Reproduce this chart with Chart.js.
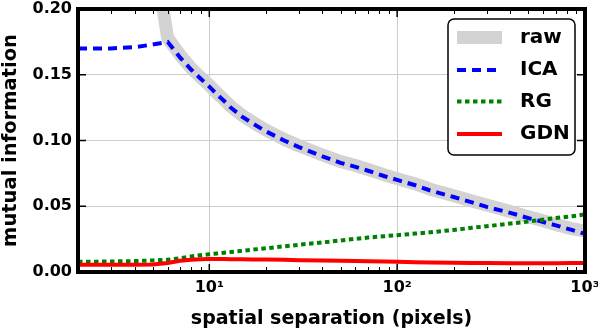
<!DOCTYPE html>
<html>
<head>
<meta charset="utf-8">
<script src="https://cdn.jsdelivr.net/npm/chart.js@4.4.1/dist/chart.umd.min.js"></script>
<style>
  html, body { margin: 0; padding: 0; background: #fff; }
  #wrap { width: 598px; height: 334px; }
</style>
</head>
<body>
<div id="wrap"><canvas id="miChart" width="598" height="334"></canvas></div>
<script>
// spatial separation (pixels) and mutual information per method
const separations = [2, 3, 4, 5, 6, 7, 8, 9, 10, 11, 12, 13, 15, 17, 20, 25, 30, 40, 50, 60, 70, 85,
    100, 125, 150, 200, 250, 300, 400, 500, 600, 700, 850, 1000]
const rawMI = [0.55, 0.42, 0.32, 0.25, 0.178, 0.165, 0.155, 0.148, 0.142, 0.136, 0.131, 0.126, 0.119, 0.114,
    0.108, 0.101, 0.096, 0.089, 0.084, 0.081, 0.078, 0.074, 0.071, 0.067, 0.063, 0.058, 0.054, 0.051,
    0.046, 0.042, 0.039, 0.036, 0.033, 0.031]
const icaMI = [0.170, 0.170, 0.171, 0.173, 0.175, 0.163, 0.154, 0.147, 0.141, 0.135, 0.130, 0.125, 0.118, 0.113,
    0.107, 0.100, 0.095, 0.088, 0.083, 0.080, 0.077, 0.073, 0.070, 0.066, 0.062, 0.057, 0.053, 0.0495,
    0.045, 0.041, 0.038, 0.0355, 0.032, 0.029]
const rgMI = [0.0077, 0.008, 0.0083, 0.0088, 0.0093, 0.0105, 0.0118, 0.0128, 0.0135, 0.0141, 0.0147, 0.0152,
    0.0161, 0.017, 0.018, 0.0195, 0.0207, 0.0225, 0.024, 0.0252, 0.0262, 0.0272, 0.028, 0.0292, 0.0302,
    0.032, 0.0336, 0.0348, 0.0368, 0.0384, 0.0398, 0.041, 0.0424, 0.0438]
const gdnMI = [0.0055, 0.0055, 0.0055, 0.0057, 0.0068, 0.0085, 0.0093, 0.0097, 0.0098, 0.0098, 0.0098, 0.0097,
    0.0097, 0.0096, 0.0095, 0.0093, 0.009, 0.0087, 0.0085, 0.0083, 0.0081, 0.0079, 0.0077, 0.0075, 0.0073,
    0.0071, 0.0069, 0.0068, 0.0067, 0.0066, 0.0066, 0.0067, 0.0068, 0.0069]

const xTickValues = [10, 100, 1000]
const xTickLabels = ['10\u00B9', '10\u00B2', '10\u00B3']
const yTickValues = [0, 0.05, 0.10, 0.15, 0.20]

const FONT = 'DejaVu Sans'

function points(ys) {
    return separations.map((s, i) => ({x: s, y: ys[i]}))
}

// matplotlib-like box: inward ticks, thick frame, legend with rounded border
const framePlugin = {
    id: 'framePlugin',
    afterDatasetsDraw(chart) {
        const {ctx, chartArea: a, scales: {x, y}} = chart
        ctx.save()
        ctx.strokeStyle = '#000'
        ctx.lineWidth = 1

        // minor x ticks
        for (let k = 0; k <= 2; k++) {
            for (let d = 2; d <= 9; d++) {
                const v = d * Math.pow(10, k)
                if (v <= 2 || v >= 1000) continue
                const px = Math.round(x.getPixelForValue(v)) + 0.5
                ctx.beginPath()
                ctx.moveTo(px, a.bottom); ctx.lineTo(px, a.bottom - 5)
                ctx.moveTo(px, a.top); ctx.lineTo(px, a.top + 5)
                ctx.stroke()
            }
        }
        ctx.lineWidth = 1.5
        xTickValues.forEach(v => {
            const px = x.getPixelForValue(v)
            ctx.beginPath()
            ctx.moveTo(px, a.bottom); ctx.lineTo(px, a.bottom - 8)
            ctx.moveTo(px, a.top); ctx.lineTo(px, a.top + 8)
            ctx.stroke()
        })
        yTickValues.forEach(v => {
            const py = y.getPixelForValue(v)
            ctx.beginPath()
            ctx.moveTo(a.left, py); ctx.lineTo(a.left + 8, py)
            ctx.moveTo(a.right, py); ctx.lineTo(a.right - 8, py)
            ctx.stroke()
        })

        ctx.lineWidth = 4
        ctx.strokeRect(a.left, a.top, a.right - a.left, a.bottom - a.top)

        // legend
        const lx = 448, ly = 19, lw = 127, lh = 136, r = 6
        ctx.beginPath()
        ctx.moveTo(lx + r, ly)
        ctx.arcTo(lx + lw, ly, lx + lw, ly + lh, r)
        ctx.arcTo(lx + lw, ly + lh, lx, ly + lh, r)
        ctx.arcTo(lx, ly + lh, lx, ly, r)
        ctx.arcTo(lx, ly, lx + lw, ly, r)
        ctx.closePath()
        ctx.fillStyle = '#fff'
        ctx.fill()
        ctx.lineWidth = 1.5
        ctx.stroke()

        const rows = [37.5, 70, 101.5, 134]
        chart.data.datasets.forEach((ds, i) => {
            const yy = rows[i]
            ctx.beginPath()
            ctx.strokeStyle = ds.borderColor
            ctx.lineWidth = ds.borderWidth
            ctx.setLineDash(ds.borderDash || [])
            ctx.lineCap = 'butt'
            ctx.moveTo(457, yy)
            ctx.lineTo(502, yy)
            ctx.stroke()
            ctx.setLineDash([])
            ctx.fillStyle = '#000'
            ctx.font = 'bold 20px "' + FONT + '"'
            ctx.textBaseline = 'middle'
            ctx.textAlign = 'left'
            ctx.fillText(ds.label, 520, yy)
        })
        ctx.restore()
    }
}

new Chart(document.getElementById('miChart'), {
    type: 'line',
    data: {
        datasets: [
            {label: 'raw', data: points(rawMI), borderColor: '#d3d3d3', borderWidth: 13,
                borderJoinStyle: 'round', order: 3},
            {label: 'ICA', data: points(icaMI), borderColor: '#0000ff', borderWidth: 4,
                borderDash: [9, 6], order: 2},
            {label: 'RG', data: points(rgMI), borderColor: '#008000', borderWidth: 4,
                borderDash: [4.5, 3.5], order: 1},
            {label: 'GDN', data: points(gdnMI), borderColor: '#ff0000', borderWidth: 4, order: 0},
        ]
    },
    options: {
        responsive: false,
        animation: false,
        devicePixelRatio: 1,
        layout: {padding: {top: 9, right: 13, left: 0, bottom: 0}},
        elements: {point: {radius: 0}, line: {tension: 0, fill: false}},
        datasets: {line: {clip: 0}},
        plugins: {legend: {display: false}, tooltip: {enabled: false}},
        scales: {
            x: {
                type: 'logarithmic',
                min: 2,
                max: 1000,
                afterBuildTicks: scale => { scale.ticks = xTickValues.map(v => ({value: v})) },
                afterFit: scale => { scale.height = 62; scale.paddingLeft = 0; scale.paddingRight = 0 },
                grid: {color: '#cccccc', lineWidth: 1, drawTicks: false},
                border: {display: false},
                ticks: {
                    autoSkip: false,
                    maxRotation: 0,
                    padding: 6,
                    color: '#000',
                    font: {family: FONT, size: 16, weight: 'bold'},
                    callback: v => xTickLabels[xTickValues.indexOf(v)] || ''
                },
                title: {
                    display: true,
                    text: 'spatial separation (pixels)',
                    color: '#000',
                    font: {family: FONT, size: 19, weight: 'bold', lineHeight: 1},
                    padding: {top: 0, bottom: 5}
                }
            },
            y: {
                min: 0,
                max: 0.2,
                afterBuildTicks: scale => { scale.ticks = yTickValues.map(v => ({value: v})) },
                afterFit: scale => { scale.width = 78; scale.paddingTop = 0; scale.paddingBottom = 0 },
                grid: {color: '#cccccc', lineWidth: 1, drawTicks: false},
                border: {display: false},
                ticks: {
                    padding: 6,
                    color: '#000',
                    font: {family: FONT, size: 16, weight: 'bold'},
                    callback: v => v.toFixed(2)
                },
                title: {
                    display: true,
                    text: 'mutual information',
                    color: '#000',
                    font: {family: FONT, size: 19.5, weight: 'bold', lineHeight: 1},
                    padding: {top: 1, bottom: 0}
                }
            }
        }
    },
    plugins: [framePlugin]
})
</script>
</body>
</html>
